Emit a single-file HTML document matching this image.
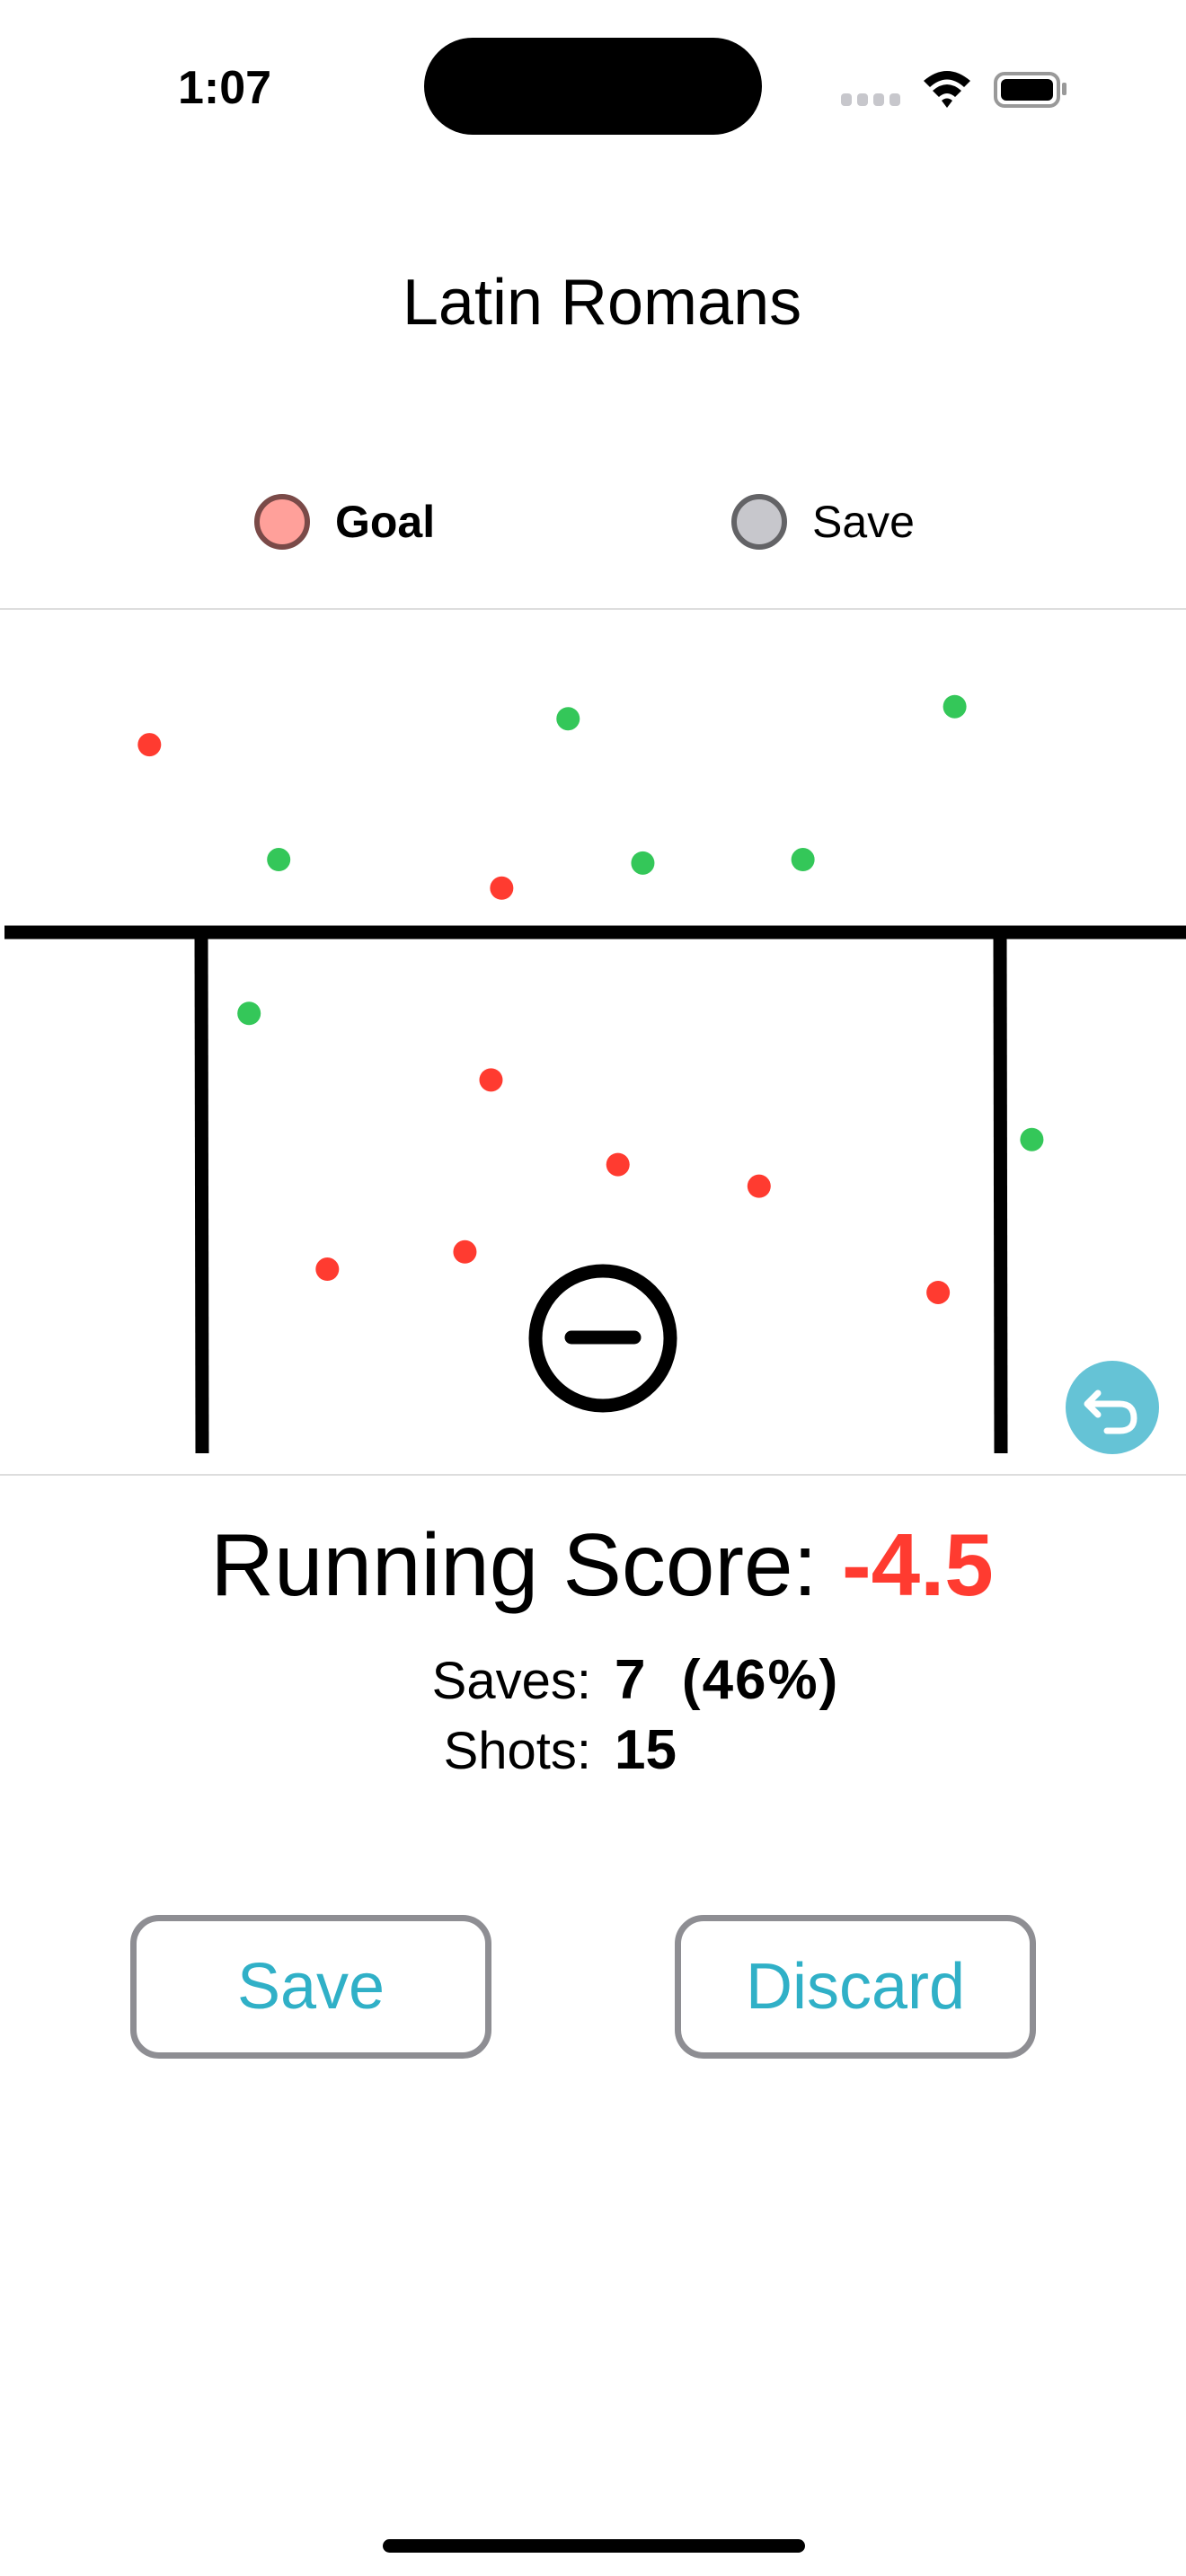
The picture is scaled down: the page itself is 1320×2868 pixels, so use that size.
<!DOCTYPE html>
<html><head><meta charset="utf-8"><style>
html,body{margin:0;padding:0;background:#fff;}
body{width:1320px;height:2868px;position:relative;overflow:hidden;font-family:"Liberation Sans",sans-serif;color:#000;}
.abs{position:absolute;}
.btn{position:absolute;width:402px;height:160px;border:7px solid #8e8e93;border-radius:32px;box-sizing:border-box;display:flex;align-items:center;justify-content:center;color:#30b0c7;font-size:72px;}
</style></head><body>
<div class="abs" style="left:198px;top:68px;font-size:52px;font-weight:bold;">1:07</div>
<div class="abs" style="left:472px;top:42px;width:376px;height:108px;background:#000;border-radius:54px;"></div>
<svg class="abs" style="left:930px;top:70px" width="280" height="60">
<g fill="#c7c7cc"><rect x="6" y="34" width="12" height="14" rx="4"/><rect x="24" y="34" width="12" height="14" rx="4"/><rect x="42" y="34" width="12" height="14" rx="4"/><rect x="60" y="34" width="12" height="14" rx="4"/></g>
<path d="M98 20 Q124 -2 150 20 L143 27 Q124 10 105 27Z M108 31 Q124 17 140 31 L133 38 Q124 30 115 38Z M118 42 Q124 37 130 42 L124 50Z" fill="#000"/>
<rect x="178" y="12" width="70" height="36" rx="10" fill="none" stroke="#999" stroke-width="4"/>
<rect x="184" y="18" width="58" height="24" rx="6" fill="#000"/>
<rect x="252" y="22" width="5" height="14" rx="2" fill="#999"/>
</svg>
<div class="abs" style="left:0;width:1340px;top:296px;text-align:center;font-size:72px;">Latin Romans</div>
<div class="abs" style="left:283px;top:550px;width:62px;height:62px;border-radius:50%;background:#ffa09a;border:6px solid #7a4a48;box-sizing:border-box;"></div>
<div class="abs" style="left:373px;top:552px;font-size:50px;font-weight:bold;">Goal</div>
<div class="abs" style="left:814px;top:550px;width:62px;height:62px;border-radius:50%;background:#c7c7cc;border:6px solid #636366;box-sizing:border-box;"></div>
<div class="abs" style="left:904px;top:552px;font-size:50px;">Save</div>
<div class="abs" style="left:0;top:677px;width:1320px;height:2px;background:#ddd;"></div>
<div class="abs" style="left:0;top:1641px;width:1320px;height:2px;background:#ddd;"></div>
<svg class="abs" id="field" style="left:0;top:679px" width="1320" height="962">
<g stroke="#000" stroke-width="15" fill="none">
<line x1="5" y1="359" x2="1320" y2="359"/>
<line x1="224" y1="359" x2="225" y2="939"/>
<line x1="1113" y1="359" x2="1114" y2="939"/>
</g>
<g><circle cx="671" cy="811" r="75" fill="none" stroke="#000" stroke-width="15"/>
<line x1="636" y1="810" x2="706" y2="810" stroke="#000" stroke-width="15" stroke-linecap="round"/></g>
<g id="shots"></g>
<g><circle cx="1238" cy="888" r="52" fill="#65c3d6"/>
<path d="M1222 872 L1210 884 L1222 896 M1211 884 L1246 884 Q1262 884 1262 900 Q1262 914 1246 914 L1232 914" stroke="#fff" stroke-width="7" fill="none" stroke-linecap="round" stroke-linejoin="round"/></g>
</svg>
<div class="abs" style="left:0;width:1340px;top:1686px;text-align:center;font-size:98px;">Running Score: <span style="color:#ff3b30;font-weight:bold;">-4.5</span></div>
<div class="abs" style="right:662px;top:1838px;font-size:58px;">Saves:</div>
<div class="abs" style="left:684px;top:1835px;font-size:62px;font-weight:bold;white-space:pre;letter-spacing:2px;">7  (46%)</div>
<div class="abs" style="right:662px;top:1916px;font-size:58px;">Shots:</div>
<div class="abs" style="left:684px;top:1913px;font-size:62px;font-weight:bold;">15</div>
<div class="btn" style="left:145px;top:2132px;">Save</div>
<div class="btn" style="left:751px;top:2132px;">Discard</div>
<div class="abs" style="left:426px;top:2827px;width:470px;height:15px;border-radius:8px;background:#000;"></div>
<script>
const shotX = [12.6,42.3,41.4,52.1,64.0,27.6,39.2,79.1,47.9,80.5,23.5,54.2,67.7,21.0,87.0];
const shotY = [15.6,32.2,54.4,64.2,66.7,76.3,74.3,79.0,12.6,11.2,28.9,29.3,28.9,46.7,61.3];
const shotOutcome = ["goal","goal","goal","goal","goal","goal","goal","goal","save","save","save","save","save","save","save"];
const W=1320,H=962;
function sx(v){return v/100*W;}
function sy(v){return v/100*H;}
const g=document.getElementById('shots');
for(let i=0;i<shotX.length;i++){
  const c=document.createElementNS('http://www.w3.org/2000/svg','circle');
  c.setAttribute('cx',sx(shotX[i]));
  c.setAttribute('cy',sy(shotY[i]));
  c.setAttribute('r',13);
  c.setAttribute('fill',shotOutcome[i]==='goal'?'#ff3b30':'#34c759');
  
  
  g.appendChild(c);
}
</script>
</body></html>
